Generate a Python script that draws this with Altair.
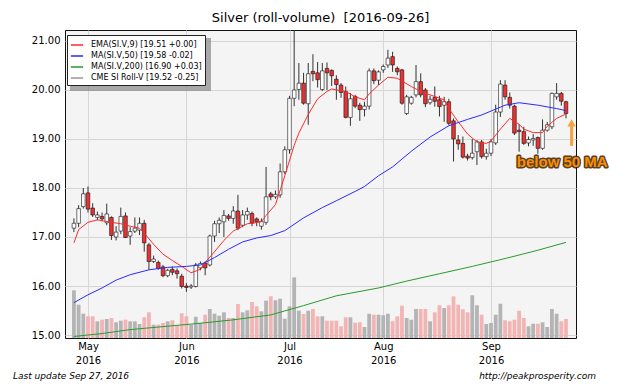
import altair as alt
import pandas as pd

# ---------------- data ----------------
idx = list(range(106))
opens = [17.18, 17.28, 17.62, 17.90, 17.59, 17.40, 17.42, 17.29, 17.40, 17.00,
         17.12, 17.43, 17.02, 17.12, 17.14, 17.28, 16.84, 16.50, 16.48, 16.39,
         16.21, 16.34, 16.31, 16.20, 16.00, 15.98, 15.99, 16.37, 16.47, 16.43,
         17.02, 17.27, 17.31, 17.43, 17.38, 17.53, 17.24, 17.45, 17.48, 17.37,
         17.22, 17.30, 17.88, 17.82, 17.86, 18.33, 18.78, 19.83, 20.01, 20.14,
         19.72, 20.38, 20.35, 20.01, 20.44, 20.40, 20.22, 20.10, 19.97, 19.44,
         19.87, 19.69, 19.60, 19.67, 20.39, 20.20, 20.41, 20.51, 20.68, 20.44,
         20.41, 19.52, 19.73, 19.90, 20.17, 20.00, 19.74, 19.85, 19.80, 19.69,
         19.76, 19.37, 18.98, 18.91, 18.65, 18.62, 18.74, 18.94, 18.64, 18.71,
         18.92, 19.55, 20.10, 19.85, 19.67, 19.18, 19.15, 18.92, 18.98, 19.03,
         18.81, 19.18, 19.25, 19.86, 19.93, 19.76]
highs = [17.38, 17.65, 18.00, 18.03, 17.69, 17.52, 17.50, 17.68, 17.42, 17.22,
         17.60, 17.50, 17.20, 17.40, 17.40, 17.35, 16.88, 16.62, 16.52, 16.43,
         16.35, 16.40, 16.36, 16.25, 16.06, 16.04, 16.47, 16.50, 16.50, 17.05,
         17.33, 17.40, 17.55, 17.47, 17.63, 17.86, 17.55, 17.60, 17.52, 17.40,
         17.38, 18.43, 17.92, 17.95, 18.50, 18.85, 19.88, 21.22, 20.55, 20.35,
         20.55, 20.73, 20.57, 20.55, 20.56, 20.42, 20.30, 20.14, 20.07, 19.94,
         19.90, 19.74, 19.76, 20.44, 20.44, 20.40, 20.52, 20.82, 20.78, 20.48,
         20.43, 19.90, 19.88, 20.51, 20.34, 20.04, 19.88, 20.07, 19.88, 19.86,
         19.82, 19.42, 19.08, 19.05, 18.70, 19.00, 18.98, 18.98, 18.80, 19.00,
         19.70, 20.20, 20.20, 19.95, 19.70, 19.30, 19.25, 19.05, 19.10, 19.05,
         19.40, 19.35, 19.95, 20.14, 19.96, 19.78]
lows = [17.10, 17.20, 17.58, 17.50, 17.41, 17.34, 17.32, 17.24, 16.94, 16.93,
        17.06, 16.98, 16.84, 17.08, 17.04, 16.70, 16.33, 16.47, 16.33, 16.18,
        16.18, 16.22, 16.15, 15.95, 15.88, 15.94, 15.97, 16.32, 16.22, 16.40,
        16.90, 17.08, 17.00, 17.33, 17.27, 17.14, 17.20, 17.35, 17.22, 17.22,
        17.15, 17.25, 17.75, 17.78, 17.80, 18.28, 18.70, 19.67, 19.80, 19.70,
        19.29, 20.18, 20.05, 19.98, 20.00, 20.08, 19.80, 19.84, 19.42, 19.27,
        19.63, 19.37, 19.46, 19.60, 20.12, 20.10, 20.35, 20.45, 20.37, 20.30,
        19.70, 19.49, 19.70, 19.85, 19.85, 19.65, 19.70, 19.66, 19.46, 19.35,
        19.28, 18.54, 18.78, 18.60, 18.56, 18.58, 18.47, 18.60, 18.58, 18.65,
        18.88, 19.45, 19.80, 19.62, 19.08, 18.74, 18.88, 18.85, 18.86, 18.70,
        18.78, 19.15, 19.20, 19.80, 19.68, 19.42]
closes = [17.28, 17.58, 17.88, 17.57, 17.45, 17.45, 17.37, 17.47, 17.03, 17.10,
          17.42, 16.99, 17.11, 17.18, 17.28, 16.88, 16.50, 16.55, 16.36, 16.21,
          16.32, 16.28, 16.25, 15.99, 15.97, 16.00, 16.43, 16.46, 16.37, 17.02,
          17.27, 17.34, 17.44, 17.38, 17.53, 17.18, 17.45, 17.52, 17.28, 17.31,
          17.32, 17.82, 17.82, 17.87, 18.33, 18.78, 19.83, 20.00, 20.14, 19.73,
          20.33, 20.33, 20.21, 20.39, 20.35, 20.29, 20.11, 19.95, 19.44, 19.82,
          19.67, 19.60, 19.67, 20.39, 20.19, 20.37, 20.48, 20.65, 20.51, 20.37,
          19.73, 19.86, 19.85, 20.17, 19.90, 19.72, 19.81, 19.77, 19.66, 19.76,
          19.32, 19.00, 18.90, 18.63, 18.61, 18.71, 18.94, 18.64, 18.71, 18.94,
          19.55, 20.12, 19.86, 19.69, 19.12, 19.15, 18.91, 18.99, 19.01, 18.81,
          19.18, 19.29, 19.93, 19.93, 19.77, 19.52]
volume = [47.7, 33.3, 24.3, 21.7, 21.7, 16.7, 18.3, 19.0, 20.0, 15.7,
          17.3, 18.3, 16.7, 16.7, 14.0, 20.7, 25.7, 13.3, 13.3, 15.0,
          16.7, 17.7, 12.7, 24.7, 21.7, 13.3, 21.3, 15.3, 23.3, 29.0,
          24.3, 22.3, 25.7, 20.0, 20.0, 34.0, 25.7, 27.7, 36.0, 31.7,
          26.7, 37.3, 41.7, 37.7, 39.3, 19.3, 31.7, 60.7, 27.3, 24.0,
          27.3, 29.0, 21.7, 21.7, 17.3, 17.3, 17.3, 11.7, 20.7, 20.7,
          15.3, 15.7, 11.0, 24.3, 23.3, 23.3, 22.7, 24.3, 16.7, 21.7,
          32.3, 20.0, 18.3, 29.0, 29.0, 29.0, 16.7, 25.7, 32.7, 30.0,
          32.7, 41.7, 33.3, 28.7, 25.7, 42.7, 32.7, 23.3, 14.0, 15.0,
          23.3, 34.3, 17.7, 16.7, 18.3, 27.3, 20.0, 11.7, 14.3, 14.3,
          15.7, 11.0, 29.0, 24.3, 16.7, 19.0]

ema_idx = [0, 1, 3, 5, 8, 10, 12, 14, 15, 17, 19, 21, 23, 25, 27, 28, 30, 32, 34,
           37, 40, 41, 43, 45, 47, 48, 50, 52, 54, 55, 58, 60, 62, 63, 65, 67, 69,
           72, 74, 76, 79, 80, 82, 84, 86, 88, 89, 91, 93, 95, 96, 98, 100, 101,
           103, 105]
ema_val = [16.88, 17.15, 17.30, 17.35, 17.30, 17.27, 17.22, 17.18, 17.08, 16.85,
           16.65, 16.52, 16.40, 16.27, 16.34, 16.48, 16.70, 16.93, 17.12, 17.27,
           17.31, 17.44, 17.66, 18.25, 18.87, 19.12, 19.50, 19.82, 19.97, 20.02,
           19.97, 19.86, 19.80, 19.92, 20.10, 20.26, 20.24, 20.07, 19.97, 19.90,
           19.80, 19.62, 19.35, 19.10, 18.94, 18.91, 18.96, 19.20, 19.42, 19.30,
           19.20, 19.13, 19.13, 19.26, 19.42, 19.51]
ma50_idx = [0, 3, 6, 9, 12, 16, 20, 24, 27, 30, 33, 36, 39, 42, 45, 49, 53, 56,
            60, 62, 65, 68, 72, 76, 80, 84, 87, 90, 92, 95, 99, 103, 105]
ma50_val = [15.66, 15.82, 15.96, 16.12, 16.23, 16.33, 16.38, 16.40, 16.43, 16.58,
            16.75, 16.90, 16.98, 17.03, 17.13, 17.39, 17.60, 17.74, 17.93, 18.03,
            18.25, 18.43, 18.75, 19.04, 19.27, 19.40, 19.49, 19.61, 19.69, 19.74,
            19.69, 19.62, 19.58]
ma200_idx = [0, 6, 12, 20, 27, 34, 42, 49, 56, 65, 71, 78, 85, 92, 99, 105]
ma200_val = [14.97, 15.03, 15.11, 15.18, 15.24, 15.31, 15.41, 15.60, 15.80, 15.96,
             16.10, 16.25, 16.40, 16.56, 16.73, 16.89]

legend_labels = ["EMA(SI.V,9) [19.51 +0.00]", "MA(SI.V,50) [19.58 -0.02]",
                 "MA(SI.V,200) [16.90 +0.03]", "CME SI Roll-V [19.52 -0.25]"]
legend_colors = ["#ff2a2a", "#2a2aff", "#2a9a2a", "#999999"]

tick_idx = [3, 24, 46, 66, 89]
tick_month = ["May", "Jun", "Jul", "Aug", "Sep"]
tick_year = ["2016", "2016", "2016", "2016", "2016"]
y_ticks = [15, 16, 17, 18, 19, 20, 21]

title_text = "Silver (roll-volume)\u00a0 [2016-09-26]"
note_left = "Last update Sep 27, 2016"
note_right = "http://peakprosperity.com"
ann_label = ["below 50 MA"]
ann_idx = [104.2]
ann_price = [18.54]
arrow_idx = [106.2]
arrow_from = [18.86]
arrow_to = [19.33]

# ---------------- tables ----------------
candles = pd.DataFrame({"idx": idx, "open": opens, "high": highs, "low": lows,
                        "close": closes, "volume": volume})
lines = pd.concat([
    pd.DataFrame({"idx": ema_idx, "value": ema_val, "series": legend_labels[0]}),
    pd.DataFrame({"idx": ma50_idx, "value": ma50_val, "series": legend_labels[1]}),
    pd.DataFrame({"idx": ma200_idx, "value": ma200_val, "series": legend_labels[2]}),
])
ann = pd.DataFrame({"idx": ann_idx, "price": ann_price, "label": ann_label})
arrow = pd.DataFrame({"idx": arrow_idx, "y0": arrow_from, "y1": arrow_to})
notes_l = pd.DataFrame({"t": [note_left]})
notes_r = pd.DataFrame({"t": [note_right]})
shadow = pd.DataFrame({"k": [0]})

# ---------------- scales / axes ----------------
xs = alt.Scale(domain=[-0.84, 106.07], nice=False, zero=False)
ys = alt.Scale(domain=[14.939, 21.224], nice=False, zero=False)

label_expr = ""
for v, m, yv in zip(tick_idx, tick_month, tick_year):
    label_expr += f"datum.value == {v} ? ['{m}', '{yv}'] : "
label_expr += "''"

xaxis = alt.Axis(values=tick_idx, labelExpr=label_expr, grid=True, ticks=False,
                 domain=False, labelPadding=3, labelFontSize=10, labelLineHeight=14,
                 labelFont="DejaVu Sans", labelColor="black", title=None)
yaxis = alt.Axis(values=y_ticks, format=".2f", grid=True, ticks=False, domain=False,
                 labelPadding=5, labelFontSize=10, labelFont="DejaVu Sans",
                 labelColor="black", title=None)

xenc = alt.X("idx:Q", scale=xs, axis=xaxis)

is_down = "datum.close < datum.open"

vol = alt.Chart(candles).mark_bar(size=3.8).encode(
    x=xenc,
    y=alt.Y("volume:Q", scale=alt.Scale(domain=[0, 308], nice=False), axis=None),
    color=alt.condition(is_down, alt.value("#f3b4b4"), alt.value("#b4b4b4")),
)

wicks = alt.Chart(candles).mark_rule(color="#333333", strokeWidth=1).encode(
    x=xenc, y=alt.Y("low:Q", scale=ys, axis=yaxis), y2="high:Q")

bodies = alt.Chart(candles).mark_bar(size=3.6, stroke="#111111", strokeWidth=0.6).encode(
    x=xenc, y=alt.Y("open:Q", scale=ys, axis=yaxis), y2="close:Q",
    fill=alt.condition(is_down, alt.value("#ee3030"), alt.value("#ffffff")))

ma_lines = alt.Chart(lines).mark_line(strokeWidth=1).encode(
    x=xenc, y=alt.Y("value:Q", scale=ys, axis=yaxis),
    color=alt.Color("series:N", scale=alt.Scale(domain=legend_labels, range=legend_colors),
                    legend=alt.Legend(title=None, orient="none", legendX=2, legendY=5,
                                      fillColor="white", strokeColor="#222222",
                                      padding=3, symbolType="stroke", symbolSize=150,
                                      symbolStrokeWidth=1.5, labelFontSize=8,
                                      labelFont="DejaVu Sans", labelColor="black",
                                      labelOffset=7, rowPadding=0, labelLimit=300)),
)

# drop shadow behind the legend box
legend_shadow = alt.Chart(shadow).mark_rect(color="#888888", opacity=0.7).encode(
    x=alt.value(5), x2=alt.value(146), y=alt.value(8), y2=alt.value(61))

ann_glow = alt.Chart(ann).mark_text(font="Liberation Sans", fontSize=15, fontWeight="bold",
                                    fill="#3a2200", stroke="#3a2200", strokeWidth=3,
                                    strokeJoin="round", opacity=0.85).encode(
    x=xenc, y=alt.Y("price:Q", scale=ys, axis=yaxis), text="label:N")
ann_text = alt.Chart(ann).mark_text(font="Liberation Sans", fontSize=15, fontWeight="bold",
                                    fill="#ff8c00").encode(
    x=xenc, y=alt.Y("price:Q", scale=ys, axis=yaxis), text="label:N")

arrow_shaft = alt.Chart(arrow).mark_rule(color="#f7a23c", strokeWidth=3).encode(
    x=xenc, y=alt.Y("y0:Q", scale=ys, axis=yaxis), y2="y1:Q")
arrow_head = alt.Chart(arrow).mark_point(shape="triangle-up", filled=True, size=70,
                                         color="#f7a23c", opacity=1).encode(
    x=xenc, y=alt.Y("y1:Q", scale=ys, axis=yaxis))

txt_l = alt.Chart(notes_l).mark_text(font="DejaVu Sans", fontSize=9, fontStyle="italic",
                                     align="left", baseline="middle", color="black").encode(
    x=alt.value(-52), y=alt.value(346), text="t:N")
txt_r = alt.Chart(notes_r).mark_text(font="DejaVu Sans", fontSize=9, fontStyle="italic",
                                     align="right", baseline="middle", color="black").encode(
    x=alt.value(531), y=alt.value(346), text="t:N")

main = alt.layer(wicks, bodies, ma_lines, legend_shadow, arrow_shaft, arrow_head,
                 ann_glow, ann_text, txt_l, txt_r)

chart = alt.layer(vol, main).resolve_scale(y="independent").properties(
    width=511, height=308,
    autosize=alt.AutoSizeParams(type="none"),
    padding={"left": 57, "top": 22, "right": 56, "bottom": 46},
    title=alt.TitleParams(text=title_text, fontSize=13, font="DejaVu Sans",
                          fontWeight="normal", anchor="middle", frame="group",
                          offset=5, color="black"),
).configure_view(fill="#f4f4f4", stroke="#111111", strokeWidth=1
).configure_axis(gridColor="#d6d6d6", gridWidth=1)

chart.save("out.html", embed_options={"renderer": "svg", "actions": False})
